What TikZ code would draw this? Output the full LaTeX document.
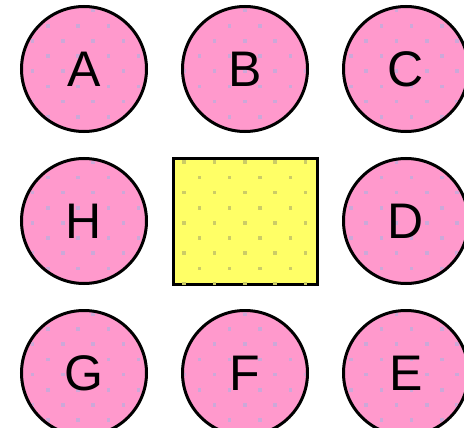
\documentclass[tikz,border=0pt]{standalone}
\usepackage{fontspec}
\setmainfont{Liberation Sans}
\definecolor{pinkfill}{RGB}{255,153,204}
\definecolor{pinkdot}{RGB}{204,168,216}
\definecolor{yelfill}{RGB}{255,255,102}
\definecolor{yeldot}{RGB}{204,204,102}
\tikzset{
  ball/.style={circle, draw=black, line width=3pt, fill=pinkfill, minimum size=125pt, inner sep=0pt},
  balltext/.style={inner sep=0pt, font=\fontsize{50}{60}\selectfont},
  boxnode/.style={rectangle, draw=black, line width=3pt, fill=yelfill, minimum width=144pt, minimum height=126pt, inner sep=0pt},
}
\newcommand{\dotgrid}[1]{%
  \foreach \r in {0,...,30}{%
    \pgfmathsetmacro\yy{-4.63+15.167*\r}%
    \pgfmathsetmacro\xo{47.7-30.33-15.167*mod(\r,2)}%
    \foreach \i in {0,...,16}{%
      \fill[#1] (\xo+30.33*\i-1.8, \yy-1.8) rectangle ++(3.6,3.6);
    }%
  }%
}
\begin{document}
\begin{tikzpicture}[x=1pt,y=-1pt]
\clip (0,0) rectangle (464,428);
\useasboundingbox (0,0) rectangle (464,428);
\fill[white] (0,0) rectangle (464,428);
\node[ball] (A) at (84,69) {};
\node[ball] (B) at (245,69) {};
\node[ball] (C) at (406,69) {};
\node[ball] (H) at (84,221) {};
\node[boxnode] (M) at (245.5,221.5) {};
\node[ball] (D) at (406,221) {};
\node[ball] (G) at (84,373) {};
\node[ball] (F) at (245,373) {};
\node[ball] (E) at (406,373) {};
\begin{scope}
  \clip (A.center) circle[radius=60.5] (B.center) circle[radius=60.5] (C.center) circle[radius=60.5]
        (H.center) circle[radius=60.5] (D.center) circle[radius=60.5]
        (G.center) circle[radius=60.5] (F.center) circle[radius=60.5] (E.center) circle[radius=60.5];
  \dotgrid{pinkdot}
\end{scope}
\begin{scope}
  \clip ([xshift=1.5pt,yshift=-1.5pt]M.north west) rectangle ([xshift=-1.5pt,yshift=1.5pt]M.south east);
  \dotgrid{yeldot}
\end{scope}
\node[balltext] (tA) at (A.center) {A};
\node[balltext] (tB) at (B.center) {B};
\node[balltext] (tC) at (C.center) {C};
\node[balltext] (tH) at (H.center) {H};
\node[balltext] (tD) at (D.center) {D};
\node[balltext] (tG) at (G.center) {G};
\node[balltext] (tF) at (F.center) {F};
\node[balltext] (tE) at (E.center) {E};
\end{tikzpicture}
\end{document}
